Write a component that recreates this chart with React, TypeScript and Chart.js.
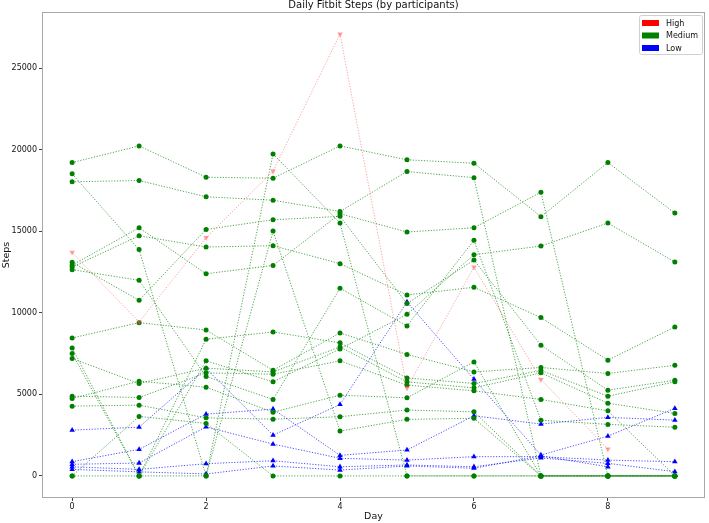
import React, { useEffect, useRef } from "react";
import { Chart, registerables } from "chart.js";

Chart.register(...registerables);

const days = [0, 1, 2, 3, 4, 5, 6, 7, 8, 9];
const xTickValues = [0, 2, 4, 6, 8];
const yTickValues = [0, 5000, 10000, 15000, 20000, 25000];
const legendLabels = ["High", "Medium", "Low"];

const highSeries: (number | null)[][] = [
  [13710, 9440, 14610, 18690, 27100, 5390, 12810, 5915, 1650, null],
];

const mediumSeries: (number | null)[][] = [
  [19220, 20240, 18320, 18260, 20240, 19390, 19180, 15900, 19220, 16120],
  [18040, 18120, 17120, 16910, 16220, 18670, 18290, 0, 0, 0],
  [18530, 13880, 0, 19750, 15510, 0, 0, 0, 0, 0],
  [12930, 15220, 12400, 12910, 16080, 14960, 15220, 17400, 0, 0],
  [12810, 14730, 14040, 14120, 13020, 11100, 11570, 9710, 7100, 9140],
  [13100, 10770, 15120, 15710, 15920, 10570, 13240, 8020, 5260, 5870],
  [12650, 12000, 6100, 4690, 11510, 9200, 14450, 3420, 3160, 2990],
  [8460, 9400, 8950, 6480, 8770, 7450, 6380, 6650, 6280, 6790],
  [7850, 0, 8380, 8830, 8160, 6010, 5670, 6470, 4890, 5770],
  [7200, 5670, 6610, 6380, 7910, 5770, 5400, 6320, 4460, 3830],
  [4890, 4810, 6320, 6240, 7060, 5570, 5220, 4690, 3990, 0],
  [7510, 0, 7060, 5770, 7790, 9910, 13570, 14100, 15510, 13120],
  [4750, 5810, 5440, 3910, 4950, 4790, 6990, 0, 0, 0],
  [4280, 4340, 3560, 3480, 3630, 4040, 3930, 0, 0, 0],
  [0, 3650, 3220, 0, 0, 0, 0, 0, 0, 0],
  [0, 0, 0, 15020, 2750, 3470, 3530, 0, 0, 0],
];

const lowSeries: (number | null)[][] = [
  [2810, 2990, 6590, 2500, 4380, 10670, 5930, 1280, 2440, 4140],
  [870, 1630, 3790, 4100, 1260, 1590, 3690, 3180, 3590, 3420],
  [710, 790, 3010, 1950, 1080, 970, 1180, 1180, 970, 870],
  [560, 400, 750, 930, 560, 670, 560, 1100, 770, 260],
  [400, 250, 120, 610, 360, 610, 470, 1230, 560, null],
];

const FONT = "'DejaVu Sans', sans-serif";

const toPoints = (vals: (number | null)[]) =>
  vals.map((v, i) => ({ x: days[i], y: v }));

const decorPlugin = {
  id: "decor",
  afterDraw(chart: any) {
    const { ctx, chartArea } = chart;
    const { left, right, top, bottom } = chartArea;
    ctx.save();
    // frame
    ctx.strokeStyle = "#a8a8a8";
    ctx.lineWidth = 1;
    ctx.strokeRect(left + 0.5, top + 0.5, right - left - 1, bottom - top - 1);
    // title
    ctx.fillStyle = "#111";
    ctx.font = `10px ${FONT}`;
    ctx.textAlign = "center";
    ctx.textBaseline = "middle";
    ctx.fillText("Daily Fitbit Steps (by participants)", (left + right) / 2, 5);
    // legend
    const bx = right - 66;
    const by = top + 3;
    const bw = 63;
    const bh = 39;
    ctx.fillStyle = "rgba(255,255,255,0.85)";
    ctx.strokeStyle = "#d0d0d0";
    ctx.lineWidth = 1;
    ctx.beginPath();
    if (ctx.roundRect) ctx.roundRect(bx + 0.5, by + 0.5, bw, bh, 2);
    else ctx.rect(bx + 0.5, by + 0.5, bw, bh);
    ctx.fill();
    ctx.stroke();
    const colors = ["#ff0000", "#008000", "#0000ff"];
    ctx.font = `8px ${FONT}`;
    ctx.textAlign = "left";
    legendLabels.forEach((lab, i) => {
      const cy = by + 8 + i * 12.5;
      ctx.fillStyle = colors[i];
      ctx.fillRect(bx + 3, cy - 3, 17, 6);
      ctx.fillStyle = "#111";
      ctx.fillText(lab, bx + 27, cy + 0.5);
    });
    ctx.restore();
  },
};

export default function App() {
  const ref = useRef<HTMLCanvasElement | null>(null);
  useEffect(() => {
    if (!ref.current) return;
    const datasets: any[] = [];
    highSeries.forEach((s) =>
      datasets.push({
        data: toPoints(s),
        borderColor: "rgba(255,80,80,0.55)",
        backgroundColor: "rgba(255,80,80,0.55)",
        borderWidth: 1,
        borderDash: [1.2, 1.6],
        pointStyle: "triangle",
        rotation: 180,
        pointRadius: 3.2,
        pointBorderWidth: 0,
        tension: 0,
        spanGaps: false,
      })
    );
    mediumSeries.forEach((s) =>
      datasets.push({
        data: toPoints(s),
        borderColor: "rgba(0,128,0,0.7)",
        backgroundColor: "#008000",
        borderWidth: 1,
        borderDash: [1.2, 1.6],
        pointStyle: "circle",
        pointRadius: 2.5,
        pointBorderWidth: 0,
        tension: 0,
      })
    );
    lowSeries.forEach((s) =>
      datasets.push({
        data: toPoints(s),
        borderColor: "rgba(0,0,255,0.7)",
        backgroundColor: "#0000ff",
        borderWidth: 1,
        borderDash: [1.2, 1.6],
        pointStyle: "triangle",
        pointRadius: 3.2,
        pointBorderWidth: 0,
        tension: 0,
        spanGaps: false,
      })
    );
    const chart = new Chart(ref.current, {
      type: "line",
      data: { datasets },
      plugins: [decorPlugin],
      options: {
        animation: false,
        responsive: false,
        layout: { padding: { top: 12, right: 2, left: 0, bottom: 0 } },
        plugins: { legend: { display: false }, tooltip: { enabled: false }, title: { display: false } },
        scales: {
          x: {
            type: "linear",
            min: -0.45,
            max: 9.45,
            afterBuildTicks: (s: any) => {
              s.ticks = xTickValues.map((v) => ({ value: v }));
            },
            afterFit: (s: any) => {
              s.height = 25;
            },
            ticks: { font: { family: FONT, size: 8 }, color: "#111", padding: 1, callback: (v: any) => String(v) },
            grid: { drawOnChartArea: false, drawTicks: true, tickLength: 3, color: "#444" },
            border: { display: false },
            title: { display: true, text: "Day", font: { family: FONT, size: 9.5 }, color: "#111", padding: { top: 0, bottom: 1 } },
          },
          y: {
            type: "linear",
            min: -1355,
            max: 28455,
            afterBuildTicks: (s: any) => {
              s.ticks = yTickValues.map((v) => ({ value: v }));
            },
            afterFit: (s: any) => {
              s.width = 42;
            },
            ticks: { font: { family: FONT, size: 8 }, color: "#111", padding: 2, callback: (v: any) => String(v) },
            grid: { drawOnChartArea: false, drawTicks: true, tickLength: 3, color: "#444" },
            border: { display: false },
            title: { display: true, text: "Steps", font: { family: FONT, size: 9.5 }, color: "#111", padding: { top: 1, bottom: 0 } },
          },
        },
      },
    });
    return () => chart.destroy();
  }, []);
  return (
    <div style={{ position: "absolute", left: 0, top: 0, width: 709, height: 523, background: "#fff" }}>
      <canvas ref={ref} width={709} height={523} />
    </div>
  );
}
